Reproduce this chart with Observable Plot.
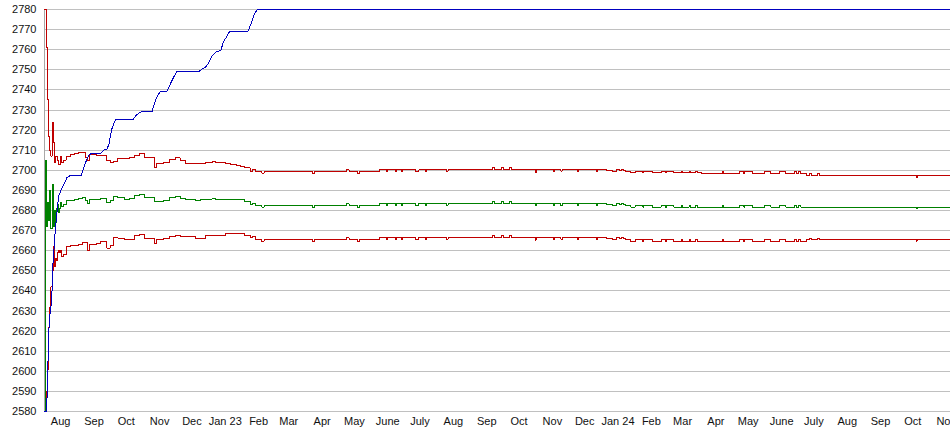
<!DOCTYPE html>
<html><head><meta charset="utf-8">
<script src="https://cdn.jsdelivr.net/npm/d3@7"></script>
<script src="https://cdn.jsdelivr.net/npm/@observablehq/plot@0.6"></script>
<style>
html,body{margin:0;padding:0;background:#fff;overflow:hidden;}
#chart svg{display:block;}
</style></head><body><div id="chart"></div>
<script>
const xStart = "2022-07-30", xEnd = "2024-11-18";
const yTicks = [2580,2590,2600,2610,2620,2630,2640,2650,2660,2670,2680,2690,2700,2710,2720,2730,2740,2750,2760,2770,2780];
const monthTickDates = ["2022-08-14","2022-09-14","2022-10-14","2022-11-14","2022-12-14","2023-01-14","2023-02-14","2023-03-14","2023-04-14","2023-05-14","2023-06-14","2023-07-14","2023-08-14","2023-09-14","2023-10-14","2023-11-14","2023-12-14","2024-01-14","2024-02-14","2024-03-14","2024-04-14","2024-05-14","2024-06-14","2024-07-14","2024-08-14","2024-09-14","2024-10-14","2024-11-14"];
const monthLabels = ["Aug","Sep","Oct","Nov","Dec","Jan 23","Feb","Mar","Apr","May","June","July","Aug","Sep","Oct","Nov","Dec","Jan 24","Feb","Mar","Apr","May","June","July","Aug","Sep","Oct","Nov"];

const bandDates = [
"2022-07-30","2022-07-31","2022-08-01","2022-08-02","2022-08-03","2022-08-04","2022-08-05","2022-08-06","2022-08-07","2022-08-08","2022-08-09","2022-08-10","2022-08-11","2022-08-12","2022-08-13","2022-08-14","2022-08-15",
"2022-08-17","2022-08-19","2022-08-23","2022-08-27","2022-08-31","2022-09-03","2022-09-06","2022-09-08","2022-09-10","2022-09-16","2022-09-20","2022-09-26","2022-09-29",
"2022-10-02","2022-10-06","2022-10-12","2022-10-17","2022-10-22","2022-10-26","2022-10-31","2022-11-05","2022-11-09","2022-11-11",
"2022-11-18","2022-11-23","2022-11-29","2022-12-03","2022-12-08","2022-12-17","2022-12-22","2022-12-27","2023-01-02","2023-01-05",
"2023-01-14","2023-01-19","2023-01-24","2023-01-28","2023-02-01","2023-02-06","2023-02-08","2023-02-11","2023-02-17","2023-02-19",
"2023-04-05","2023-04-07","2023-05-07","2023-05-09","2023-05-17","2023-05-19","2023-06-06","2023-06-13","2023-06-14",
"2023-06-21","2023-06-22","2023-06-27","2023-06-28","2023-07-10","2023-07-13","2023-07-19","2023-07-20","2023-08-08","2023-08-09",
"2023-09-19","2023-09-21","2023-09-28","2023-09-30","2023-10-05","2023-10-07",
"2023-10-29","2023-10-30","2023-11-15","2023-11-16","2023-11-22","2023-11-23","2023-12-07","2023-12-08","2023-12-25","2023-12-26",
"2024-01-03","2024-01-09","2024-01-13","2024-01-15","2024-01-17","2024-01-19","2024-01-21",
"2024-01-26","2024-01-30","2024-02-06","2024-02-07","2024-02-15","2024-02-23","2024-02-27","2024-02-28","2024-03-06","2024-03-13","2024-03-14","2024-03-20","2024-03-21","2024-03-26","2024-03-28",
"2024-04-01","2024-04-20","2024-04-21","2024-05-06","2024-05-10","2024-05-11","2024-05-18","2024-05-29","2024-06-04","2024-06-12","2024-06-18","2024-06-26","2024-06-28","2024-06-30","2024-07-02",
"2024-07-07","2024-07-10","2024-07-12","2024-07-17","2024-07-19","2024-10-17","2024-10-18","2024-11-18"];

const upperVals = [
2780,2780,2761,2735,2717,2710,2707,2724,2714,2704,2707,2707,2705,2703,2703,2707,2704,
2705,2707,2708,2708.5,2709,2709,2706.5,2705,2708,2707.5,2707.4,2705,2703.7,
2704.5,2706,2706,2706.5,2707.5,2708.2,2706.6,2706.3,2701.6,2703.2,
2703.8,2705.2,2706.2,2704.9,2703.5,2703.3,2703.5,2704,2704.5,2703.7,
2703.5,2703,2702.4,2702.1,2701.3,2699.5,2700.3,2699.5,2698.6,2699.5,
2698.6,2699.5,2700.3,2699.5,2698.3,2699.5,2700.3,2699.5,2700.3,
2699.5,2700.3,2699.5,2700.3,2699.5,2700.3,2699.5,2700.3,2699.5,2700.3,
2701.3,2700.3,2701.3,2700.3,2701.3,2700.3,
2699.1,2700.3,2699.5,2700.3,2699.5,2700.3,2699.5,2700.3,2699.5,2700.3,
2699.8,2699.5,2700.3,2699.8,2700.3,2699.8,2699.5,
2698.7,2699.5,2698.7,2699.5,2698.7,2699.5,2698.7,2699.5,2698.7,2699.5,2698.7,2699.5,2698.7,2699.5,2698.7,
2698.4,2699.5,2698.4,2699.5,2698.4,2699.5,2698.4,2699.5,2698.4,2699.5,2698.4,2699.5,2698.4,2699.5,2698.4,
2697.5,2698.4,2697.5,2698.4,2697.5,2696.4,2697.5,2697.5];

const middleVals = [
2580,2705,2672,2684,2675,2690,2671,2693,2672,2680,2674,2681,2683,2679,2681,2684,2682,
2683,2685,2685,2685.5,2686,2686.5,2685,2683.5,2685.5,2685.5,2686,2684,2685,
2687,2686.5,2685.7,2686,2687.5,2688,2686.5,2686.3,2684.3,2684.5,
2685,2686.3,2687,2686,2685.5,2685,2685.3,2685.7,2686,2685.7,
2685.7,2685.5,2685.4,2685.4,2684.5,2683,2683.7,2682.5,2681.7,2682.5,
2681.7,2682.5,2683.4,2682.5,2681.5,2682.5,2683.4,2682.5,2683.4,
2682.5,2683.4,2682.5,2683.4,2682.5,2683.4,2682.5,2683.4,2682.5,2683.4,
2684.3,2683.4,2684.3,2683.4,2684.3,2683.4,
2682.3,2683.4,2682.5,2683.4,2682.5,2683.4,2682.5,2683.4,2682.5,2683.4,
2683.0,2682.5,2683.4,2683.0,2683.4,2683.0,2682.5,
2681.7,2682.5,2681.7,2682.5,2681.7,2682.5,2681.7,2682.5,2681.7,2682.5,2681.7,2682.5,2681.7,2682.5,2681.7,
2681.7,2682.5,2681.7,2682.5,2681.7,2682.5,2681.7,2682.5,2681.7,2682.5,2681.7,2682.5,2681.7,2682.5,2681.7,
2681.4,2681.7,2681.4,2681.7,2681.4,2680.9,2681.4,2681.4];

const lowerVals = [
2580,2580,2590,2601,2622,2632,2642,2650,2662,2652,2656,2655,2659,2660,2659,2660,2657,
2658,2662,2662.5,2662.5,2663,2664,2664,2660,2663,2663.4,2664.7,2661.3,2662.5,
2666.7,2666.3,2665.4,2665.6,2667.5,2667.9,2666,2666.3,2663.4,2665.5,
2666,2667,2667.5,2667.3,2667.3,2666,2666.3,2667.5,2667.5,2667.5,
2668.4,2668.4,2668.4,2668.4,2667.6,2666.5,2667,2665.6,2664.7,2665.6,
2664.7,2665.6,2666.5,2665.6,2664.5,2665.6,2666.5,2665.6,2666.5,
2665.6,2666.5,2665.6,2666.5,2665.6,2666.5,2665.6,2666.5,2665.6,2666.5,
2667.4,2666.5,2667.4,2666.5,2667.4,2666.5,
2665.3,2666.5,2665.6,2666.5,2665.6,2666.5,2665.6,2666.5,2665.6,2666.5,
2666.0,2665.6,2666.5,2666.0,2666.5,2666.0,2665.6,
2664.6,2665.6,2664.6,2665.6,2664.6,2665.6,2664.6,2665.6,2664.6,2665.6,2664.6,2665.6,2664.6,2665.6,2664.6,
2664.6,2665.6,2664.6,2665.6,2664.6,2665.6,2664.6,2665.6,2664.6,2665.6,2664.6,2665.6,2664.6,2665.6,2664.6,
2665.5,2666.2,2665.5,2666.2,2665.5,2664.8,2665.5,2665.5];

const blueDates = ["2022-07-30","2022-08-01","2022-08-02","2022-08-03","2022-08-04","2022-08-05","2022-08-06","2022-08-07","2022-08-08","2022-08-09","2022-08-10","2022-08-11","2022-08-12","2022-08-15","2022-08-18","2022-08-20","2022-08-23","2022-08-25","2022-09-02","2022-09-04","2022-09-07","2022-09-09","2022-09-11","2022-09-20","2022-09-23","2022-09-26","2022-09-28","2022-09-29","2022-10-01","2022-10-04","2022-10-20","2022-10-23","2022-10-27","2022-10-30","2022-11-07","2022-11-09","2022-11-12","2022-11-15","2022-11-21","2022-11-24","2022-11-27","2022-11-30","2022-12-21","2022-12-23","2022-12-27","2022-12-30","2023-01-02","2023-01-05","2023-01-10","2023-01-12","2023-01-16","2023-01-18","2023-02-04","2023-02-07","2023-02-10","2023-02-13","2024-11-18"];
const blueVals = [2580,2580,2600,2620,2628,2632,2640,2655,2662,2670,2676,2681,2687,2691,2694,2696.5,2697.4,2697.4,2697.4,2700.7,2705,2707.5,2708.2,2708.2,2710,2710.4,2713.2,2716.5,2721.4,2725.1,2725.1,2727.3,2728.9,2729.2,2729.2,2733.1,2737.2,2739.4,2739.4,2743,2746.3,2749.3,2749.3,2750.3,2751.5,2753.8,2757.1,2758.8,2759.6,2763.7,2767.1,2769,2769,2772.9,2777.9,2780,2780];

const band = bandDates.map((d, i) => ({date: new Date(d), upper: upperVals[i], middle: middleVals[i], lower: lowerVals[i]}));
const blue = blueDates.map((d, i) => ({date: new Date(d), value: blueVals[i]}));
const labelByTime = new Map(monthTickDates.map((d, i) => [+new Date(d), monthLabels[i]]));

const chart = Plot.plot({
  width: 950, height: 435,
  marginLeft: 44, marginRight: 0, marginTop: 9, marginBottom: 24,
  style: {fontFamily: '"Liberation Sans", Arial, sans-serif', fontSize: "11px", color: "#111", background: "#fff"},
  x: {type: "utc", domain: [new Date(xStart), new Date(xEnd)]},
  y: {domain: [2580, 2780]},
  marks: [
    Plot.gridY(yTicks, {stroke: "#c0c0c0", strokeOpacity: 1, shapeRendering: "crispEdges"}),
    Plot.ruleX([new Date(xStart)], {stroke: "#a8a8a8", shapeRendering: "crispEdges"}),
    Plot.axisY(yTicks, {tickSize: 0, tickPadding: 8, label: null, tickFormat: d => String(d)}),
    Plot.axisX(monthTickDates.map(d => new Date(d)), {tickSize: 0, tickPadding: 6, label: null, tickFormat: d => labelByTime.get(+d)}),
    Plot.line(band, {x: "date", y: "upper", stroke: "#c00000", strokeWidth: 1, curve: "step-after", shapeRendering: "crispEdges"}),
    Plot.line(band, {x: "date", y: "middle", stroke: "#008000", strokeWidth: 1, curve: "step-after", shapeRendering: "crispEdges"}),
    Plot.line(band, {x: "date", y: "lower", stroke: "#c00000", strokeWidth: 1, curve: "step-after", shapeRendering: "crispEdges"}),
    Plot.line(blue, {x: "date", y: "value", stroke: "#0000c0", strokeWidth: 1, shapeRendering: "crispEdges"})
  ]
});
document.getElementById("chart").appendChild(chart);
</script></body></html>
